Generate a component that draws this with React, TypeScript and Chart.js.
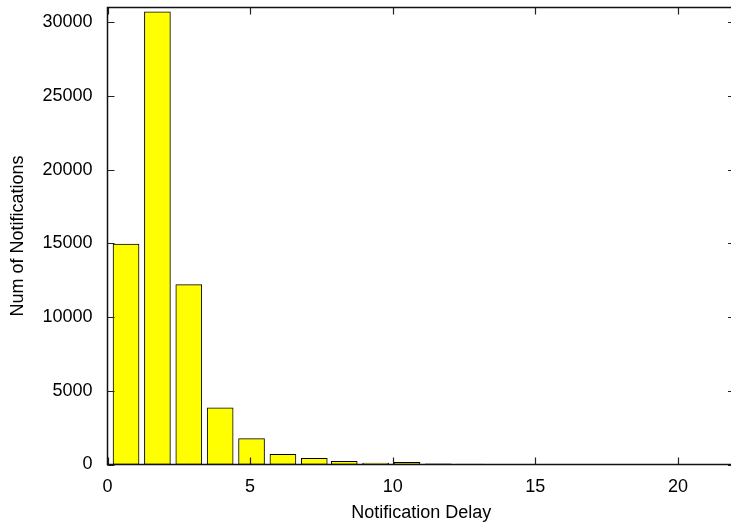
import React, { useEffect, useRef } from 'react';
import { Chart, registerables } from 'chart.js';

Chart.register(...registerables);

// Bin centres (Notification Delay) and counts (Num of Notifications)
const binCenters = [0.65, 1.75, 2.85, 3.95, 5.05, 6.15, 7.25, 8.3, 9.4, 10.5, 11.6, 12.7, 13.8, 14.9, 16.0, 17.1, 18.2, 19.3, 20.4, 21.5];
const counts = [14950, 30700, 12200, 3850, 1750, 690, 420, 220, 100, 150, 40, 30, 20, 15, 10, 10, 5, 5, 5, 5];
const xTicks = [0, 5, 10, 15, 20];
const yTicks = [0, 5000, 10000, 15000, 20000, 25000, 30000];
const X_MIN = 0;
const X_MAX = 22;
const Y_MIN = 0;
const Y_MAX = 31000;

const FONT = '"Liberation Sans", Arial, Helvetica, sans-serif';

const framePlugin = {
  id: 'gnuplotFrame',
  afterDatasetsDraw(chart: any) {
    const { ctx, chartArea } = chart;
    const { left, right, top, bottom } = chartArea;
    const xs = chart.scales.x;
    const ys = chart.scales.y;
    const len = 7;
    ctx.save();
    ctx.strokeStyle = '#222';
    ctx.lineWidth = 1.2;
    ctx.beginPath();
    for (const v of xTicks) {
      const px = Math.round(xs.getPixelForValue(v)) + 0.5;
      ctx.moveTo(px, bottom);
      ctx.lineTo(px, bottom - len);
      ctx.moveTo(px, top);
      ctx.lineTo(px, top + len);
    }
    for (const v of yTicks) {
      const py = Math.round(ys.getPixelForValue(v)) + 0.5;
      ctx.moveTo(left, py);
      ctx.lineTo(left + len, py);
      ctx.moveTo(right, py);
      ctx.lineTo(right - len, py);
    }
    ctx.stroke();
    ctx.lineWidth = 1.5;
    ctx.strokeStyle = '#111';
    ctx.strokeRect(left, top, right - left, bottom - top);
    ctx.restore();
  },
};

export default function App() {
  const ref = useRef<HTMLCanvasElement | null>(null);

  useEffect(() => {
    document.body.style.margin = '0';
    document.body.style.overflow = 'hidden';
    const canvas = ref.current;
    if (!canvas) return;
    const chart = new Chart(canvas, {
      type: 'bar',
      data: {
        datasets: [
          {
            data: binCenters.map((x, i) => ({ x, y: counts[i] })),
            backgroundColor: '#ffff00',
            borderColor: '#000000',
            borderWidth: 1,
            borderSkipped: false,
            barThickness: 26,
          },
        ],
      },
      options: {
        animation: false,
        responsive: false,
        devicePixelRatio: 1,
        layout: { padding: { top: 7.5, right: 0, left: 0, bottom: 0 } },
        plugins: {
          legend: { display: false },
          tooltip: { enabled: false },
        },
        scales: {
          x: {
            type: 'linear',
            min: X_MIN,
            max: X_MAX,
            offset: false,
            grid: { display: false, drawTicks: false },
            border: { display: false },
            afterFit: (s: any) => {
              s.height = 59.5;
              s.paddingLeft = 0;
              s.paddingRight = 0;
            },
            afterBuildTicks: (s: any) => {
              s.ticks = xTicks.map((v) => ({ value: v }));
            },
            ticks: {
              padding: 12,
              color: '#000',
              font: { family: FONT, size: 18 },
              maxRotation: 0,
              autoSkip: false,
              callback: (v: any) => String(v),
            },
            title: {
              display: true,
              text: 'Notification Delay',
              color: '#000',
              font: { family: FONT, size: 18 },
              padding: { top: 0, bottom: 0 },
            },
          },
          y: {
            type: 'linear',
            min: Y_MIN,
            max: Y_MAX,
            grid: { display: false, drawTicks: false },
            border: { display: false },
            afterFit: (s: any) => {
              s.width = 107.5;
              s.paddingTop = 0;
              s.paddingBottom = 0;
            },
            afterBuildTicks: (s: any) => {
              s.ticks = yTicks.map((v) => ({ value: v }));
            },
            ticks: {
              padding: 15,
              color: '#000',
              font: { family: FONT, size: 18 },
              autoSkip: false,
              callback: (v: any) => String(v),
            },
            title: {
              display: true,
              text: 'Num of Notifications',
              color: '#000',
              font: { family: FONT, size: 18 },
              padding: { top: 7, bottom: 0 },
            },
          },
        },
      },
      plugins: [framePlugin],
    });
    return () => chart.destroy();
  }, []);

  return (
    <div style={{ width: 731, height: 524, overflow: 'hidden' }}>
      <canvas ref={ref} width={735} height={524} style={{ display: 'block' }} />
    </div>
  );
}
